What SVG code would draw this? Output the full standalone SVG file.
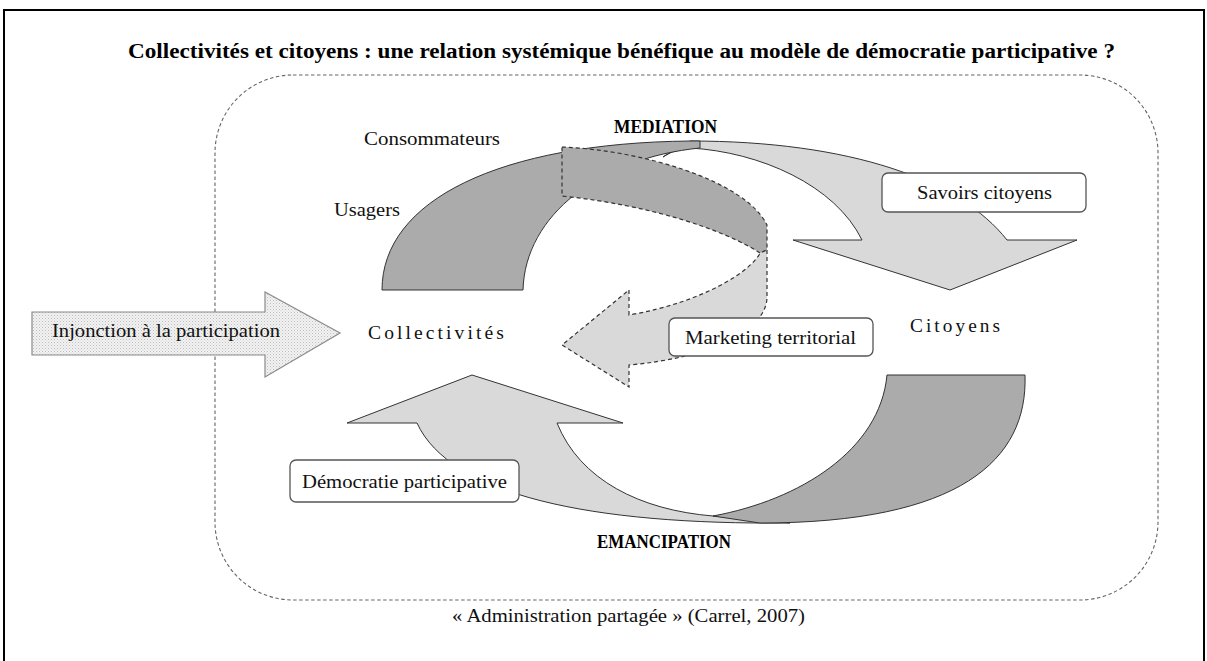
<svg xmlns="http://www.w3.org/2000/svg" width="1207" height="661" viewBox="0 0 1207 661">
<defs>
<pattern id="dots" width="3" height="3" patternUnits="userSpaceOnUse">
<rect width="3" height="3" fill="#f2f2f2"/>
<rect x="0" y="0" width="1" height="1" fill="#bdbdbd"/>
<rect x="1.5" y="1.5" width="1" height="1" fill="#cfcfcf"/>
</pattern>
<style>
.lbl{font-family:"Liberation Serif","Times New Roman",serif;font-size:19px;fill:#111}
.bold{font-family:"Liberation Serif","Times New Roman",serif;font-weight:bold;fill:#000}
.dark{fill:#ababab;stroke:#333;stroke-width:1}
.light{fill:#d9d9d9;stroke:#333;stroke-width:1}
.dash{stroke:#333;stroke-width:1.2;stroke-dasharray:4 3}
.box{fill:#fff;stroke:#555;stroke-width:1.3}
</style>
</defs>
<rect x="0" y="0" width="1207" height="661" fill="#fff"/>
<rect x="4" y="10" width="1200" height="670" fill="none" stroke="#000" stroke-width="2"/>
<text class="bold" x="128" y="58" font-size="20" textLength="987" lengthAdjust="spacingAndGlyphs">Collectivités et citoyens : une relation systémique bénéfique au modèle de démocratie participative ?</text>
<g id="frame">
<rect x="215" y="75" width="943" height="525" rx="78" ry="78" fill="none" stroke="#666" stroke-width="1.1" stroke-dasharray="3.5 2.5"/>
</g>
<g id="connectors">
<!-- top curved arrow (Savoirs citoyens) -->
<g id="arrow-mediation">
<path class="light" d="M690,141 C850,141 960,180 1007,240 L1077,240 L950,290 L793,240 L862,240 C835,185 760,152 690,148 C676,150 668,153 663,157 Z"/>
<path class="dark" d="M382,290 C382,200 500,143 690,141 L700,141 L700,148 C600,158 525,215 523,290 Z"/>
</g>
<!-- dashed curved left arrow (Marketing territorial) -->
<g id="arrow-marketing">
<path fill="#ababab" class="dash" d="M562,147 C640,150 745,180 767,225 L767,250 L760,253 C725,230 650,205 562,196 Z"/>
<path fill="#d9d9d9" class="dash" d="M767,250 L767,297 C767,330 710,358 629,365 L629,387 L562,345 L629,290 L629,315 C705,302 752,270 760,253 Z"/>
</g>
<!-- bottom curved up arrow (Démocratie participative) -->
<g id="arrow-emancipation">
<path class="light" d="M790,523 C590,525 450,495 417,423 L347,423 L472,375 L623,423 L557,423 C580,480 640,510 713,516 Z"/>
<path class="dark" d="M887,375 L1025,375 C1028,460 960,523 760,523 L713,516 C800,500 880,450 887,375 Z"/>
</g>
</g>
<g id="injonction">
<path d="M32,312 L265,312 L265,292 L340,333 L265,377 L265,355 L32,355 Z" fill="url(#dots)" stroke="#8a8a8a" stroke-width="1.2"/>
<text class="lbl" x="52" y="337" textLength="228" lengthAdjust="spacingAndGlyphs">Injonction à la participation</text>
</g>
<g id="consommateurs"><text class="lbl" x="364" y="145" textLength="136" lengthAdjust="spacingAndGlyphs">Consommateurs</text></g>
<g id="usagers"><text class="lbl" x="334" y="216" textLength="66" lengthAdjust="spacingAndGlyphs">Usagers</text></g>
<g id="mediation"><text class="bold" x="614" y="133" font-size="19" textLength="103" lengthAdjust="spacingAndGlyphs">MEDIATION</text></g>
<g id="emancipation"><text class="bold" x="597" y="548" font-size="19" textLength="134" lengthAdjust="spacingAndGlyphs">EMANCIPATION</text></g>
<g id="collectivites"><text class="lbl" x="368" y="339" font-size="18" letter-spacing="3" textLength="139" lengthAdjust="spacingAndGlyphs">Collectivités</text></g>
<g id="citoyens"><text class="lbl" x="910" y="332" font-size="18" letter-spacing="3" textLength="93" lengthAdjust="spacingAndGlyphs">Citoyens</text></g>
<g id="savoirs">
<rect class="box" x="882" y="173" width="204" height="39" rx="6"/>
<text class="lbl" x="917" y="199" textLength="135" lengthAdjust="spacingAndGlyphs">Savoirs citoyens</text>
</g>
<g id="marketing">
<rect class="box" x="669" y="318" width="204" height="38" rx="6"/>
<text class="lbl" x="685" y="344" textLength="171" lengthAdjust="spacingAndGlyphs">Marketing territorial</text>
</g>
<g id="democratie">
<rect class="box" x="290" y="460" width="229" height="42" rx="6"/>
<text class="lbl" x="302" y="488" textLength="205" lengthAdjust="spacingAndGlyphs">Démocratie participative</text>
</g>
<g id="source"><text class="lbl" x="452" y="622" textLength="353" lengthAdjust="spacingAndGlyphs">« Administration partagée » (Carrel, 2007)</text></g>
</svg>
